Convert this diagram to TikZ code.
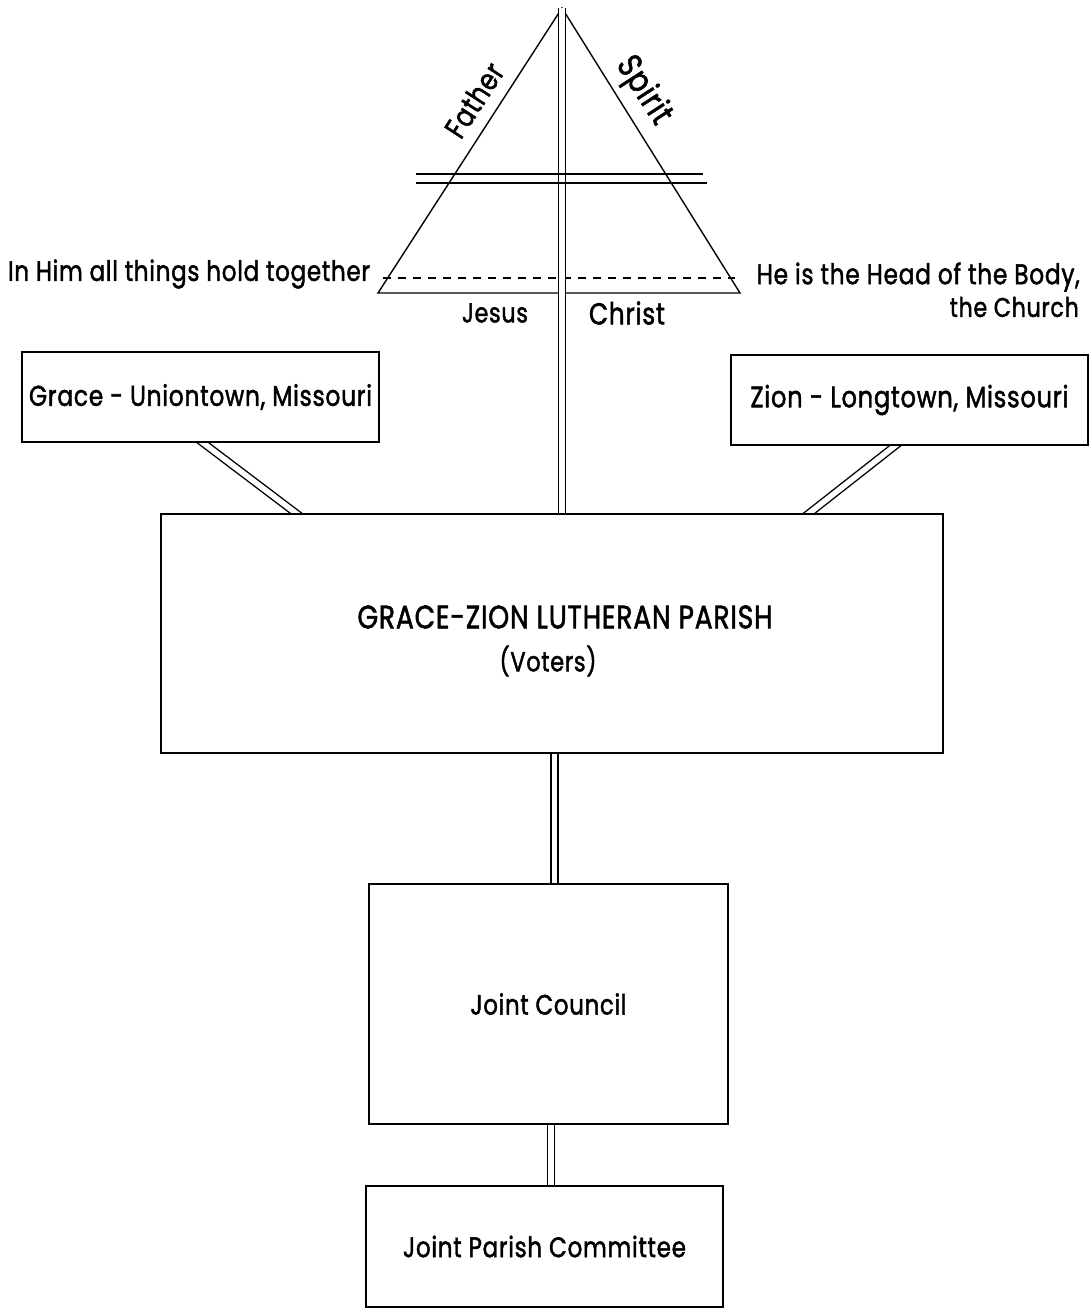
\documentclass[tikz,border=0pt]{standalone}
\usepackage{fontspec}
\setmainfont{Poppins}[FakeBold=1.8,LetterSpace=3]
\usepackage{graphicx}
\newcommand\fitto[2]{\scalebox{1}[1.22]{\resizebox{#1pt}{!}{#2}}}
\begin{document}
\begin{tikzpicture}[x=1pt,y=-1pt,
  ln/.style={line width=1.4pt,black},
  box/.style={draw,line width=1.4pt,fill=white,inner sep=0pt,align=center,font=\fontsize{22}{44}\selectfont},
  lbl/.style={inner sep=0pt,font=\fontsize{22}{32}\selectfont},
  dbl/.style={line width=1.4pt,double=white,double distance=5.5pt}]
\useasboundingbox (0,0) rectangle (1090,1309);
% triangle
\coordinate (apex) at (562,8);
\coordinate (tl) at (378,293);
\coordinate (tr) at (740,293);
\draw[ln,line join=miter] (apex) -- (tl) -- (tr) -- cycle;
\coordinate (dl) at (383,278);
\coordinate (dr) at (735,278);
\draw[ln,dash pattern=on 8pt off 7pt] (dl) -- (dr);
% stem and cross bar
\coordinate (stemtop) at (562,8);
\coordinate (stembot) at (562,516);
\draw[dbl] (stemtop) -- (stembot);
\coordinate (h1a) at (416,174); \coordinate (h1b) at (703,174);
\coordinate (h2a) at (416,183); \coordinate (h2b) at (707,183);
\draw[ln] (h1a) -- (h1b);
\draw[ln] (h2a) -- (h2b);
% connectors
\coordinate (gtop) at (194,436); \coordinate (gbot) at (305,520);
\coordinate (ztop) at (905,438); \coordinate (zbot) at (798,522);
\draw[dbl] (gtop) -- (gbot);
\draw[dbl] (ztop) -- (zbot);
\coordinate (v1t) at (554.5,748); \coordinate (v1b) at (554.5,890);
\coordinate (v2t) at (551,1118); \coordinate (v2b) at (551,1192);
\draw[dbl] (v1t) -- (v1b);
\draw[dbl] (v2t) -- (v2b);
% boxes
\node[box,minimum width=357pt,minimum height=90pt] (grace) at (200.5,397) {\fitto{343}{Grace - Uniontown, Missouri}};
\node[box,minimum width=357pt,minimum height=90pt] (zion) at (909.5,400) {\fitto{318}{Zion - Longtown, Missouri}};
\node[box,minimum width=782pt,minimum height=239pt] (parish) at (552,633.5) {};
\node[lbl] (parishtitle) at (565,617) {\fitto{415}{GRACE-ZION LUTHERAN PARISH}};
\node[lbl] (voters) at (548,661) {\fitto{97}{(Voters)}};
\node[box,minimum width=359pt,minimum height=240pt] (council) at (548.5,1004) {\fitto{156}{Joint Council}};
\node[box,minimum width=357pt,minimum height=121pt] (committee) at (544.5,1246.5) {\fitto{283}{Joint Parish Committee}};
% labels
\node[lbl,rotate=57] (father) at (474,100) {\fitto{82}{Father}};
\node[lbl,rotate=-57] (spirit) at (643,91) {\fitto{74}{Spirit}};
\node[lbl] (inhim) at (189,274) {\fitto{362}{In Him all things hold together}};
\node[lbl,anchor=east] (head1) at (1080,277) {\fitto{323}{He is the Head of the Body,}};
\node[lbl,anchor=east] (head2) at (1079,307) {\fitto{129}{the Church}};
\node[lbl] (jesus) at (495,313) {\fitto{66}{Jesus}};
\node[lbl] (christ) at (627,313) {\fitto{76}{Christ}};
\end{tikzpicture}
\end{document}
